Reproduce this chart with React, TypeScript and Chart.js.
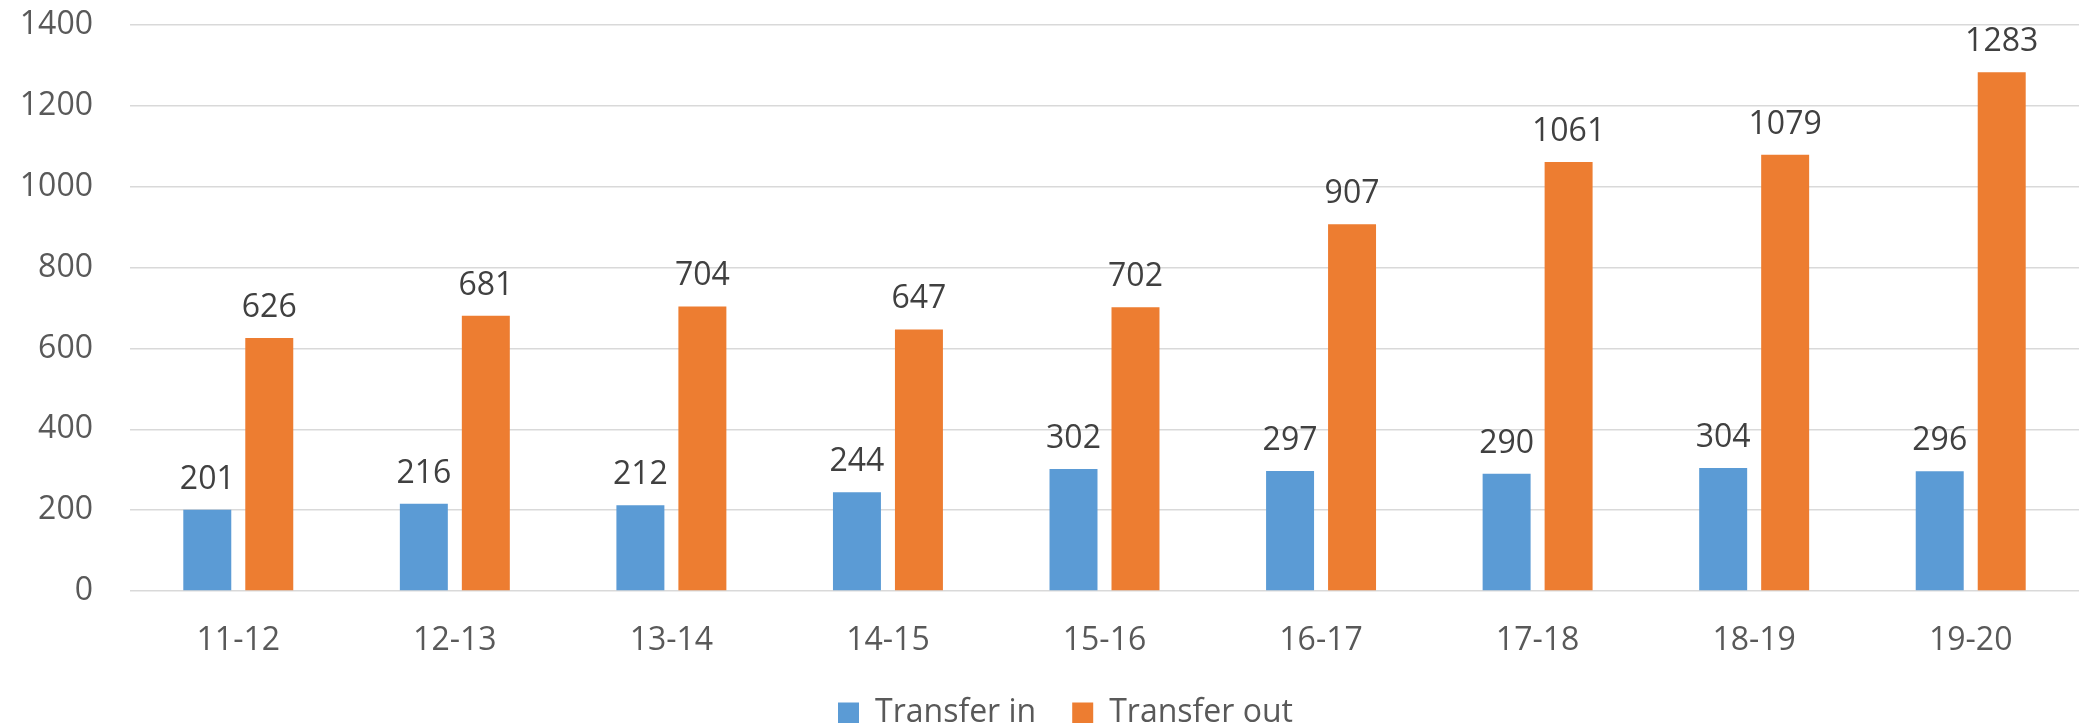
import React, { useEffect, useRef } from "react";
import { Chart, registerables } from "chart.js";

Chart.register(...registerables);

const categories = ["11-12", "12-13", "13-14", "14-15", "15-16", "16-17", "17-18", "18-19", "19-20"];
const transferIn = [201, 216, 212, 244, 302, 297, 290, 304, 296];
const transferOut = [626, 681, 704, 647, 702, 907, 1061, 1079, 1283];
const yTicks = [0, 200, 400, 600, 800, 1000, 1200, 1400];

const FONT = "'Open Sans', 'Noto Sans', sans-serif";
const FS = 32;

const valueLabels = {
  id: "valueLabels",
  afterLayout(chart: any) {
    if (chart.legend) {
      chart.legend.left += 26;
      chart.legend.right += 26;
    }
  },
  afterDatasetsDraw(chart: any) {
    const ctx = chart.ctx;
    ctx.save();
    ctx.font = `${FS}px ${FONT}`;
    ctx.fillStyle = "#404040";
    ctx.textAlign = "center";
    ctx.textBaseline = "alphabetic";
    chart.data.datasets.forEach((ds: any, i: number) => {
      const meta = chart.getDatasetMeta(i);
      meta.data.forEach((bar: any, j: number) => {
        ctx.fillText(String(ds.data[j]), bar.x, bar.y - 21);
      });
    });
    ctx.restore();
  },
};

export default function App() {
  const ref = useRef<HTMLCanvasElement | null>(null);

  useEffect(() => {
    document.body.style.margin = "0";
    const canvas = ref.current!;
    const chart = new Chart(canvas, {
      type: "bar",
      data: {
        labels: categories,
        datasets: [
          {
            label: "Transfer in",
            data: transferIn,
            backgroundColor: "#5b9bd5",
            categoryPercentage: 0.5725,
            barPercentage: 0.774,
          },
          {
            label: "Transfer out",
            data: transferOut,
            backgroundColor: "#ed7d31",
            categoryPercentage: 0.5725,
            barPercentage: 0.774,
          },
        ],
      },
      options: {
        animation: false,
        responsive: false,
        maintainAspectRatio: false,
        layout: { padding: { top: 25, right: 0, left: 0, bottom: 0 } },
        plugins: {
          legend: {
            position: "bottom",
            labels: {
              boxWidth: 21,
              boxHeight: 21,
              padding: 36,
              color: "#595959",
              font: { family: FONT, size: FS },
            },
          },
          tooltip: { enabled: false },
        },
        scales: {
          x: {
            grid: { display: false },
            border: { display: false },
            ticks: {
              color: "#595959",
              font: { family: FONT, size: FS },
              padding: 23,
              maxRotation: 0,
            },
            afterFit: (s: any) => {
              s.height = 70;
              s.paddingLeft = 0;
              s.paddingRight = 0;
            },
          },
          y: {
            min: 0,
            max: 1400,
            afterBuildTicks: (s: any) => {
              s.ticks = yTicks.map((v) => ({ value: v }));
            },
            grid: { color: "#d9d9d9", lineWidth: 1.5, drawTicks: false },
            border: { display: false },
            ticks: {
              color: "#595959",
              font: { family: FONT, size: FS },
              padding: 37,
              callback: (v: any) => String(v),
            },
            afterFit: (s: any) => {
              s.width = 130;
              s.paddingTop = 0;
              s.paddingBottom = 0;
            },
          },
        },
      },
      plugins: [valueLabels],
    });
    return () => chart.destroy();
  }, []);

  return (
    <div style={{ width: 2079, height: 723, overflow: "hidden" }}>
      <canvas ref={ref} width={2079} height={739} style={{ display: "block" }} />
    </div>
  );
}
